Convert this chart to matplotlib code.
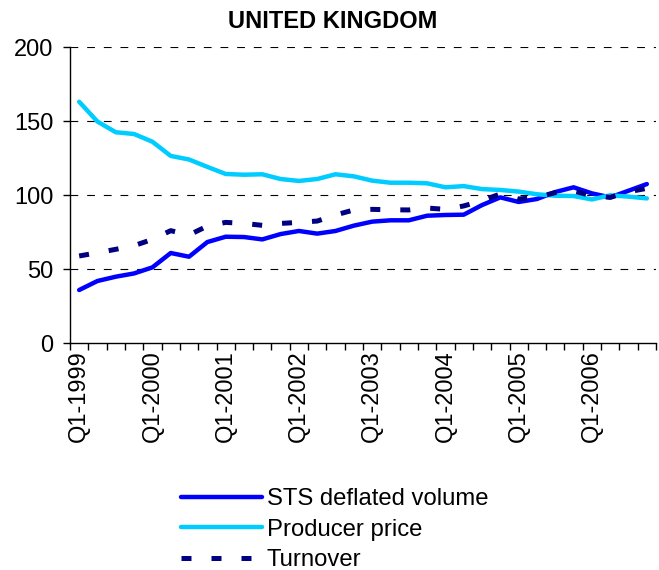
import matplotlib.pyplot as plt
import numpy as np

# Quarterly index values, Q1-1999 .. Q4-2006
quarters = [f"Q{q}-{y}" for y in range(1999, 2007) for q in range(1, 5)]
year_labels = [f"Q1-{y}" for y in range(1999, 2007)]

sts_volume = [35.8, 41.9, 44.8, 47.0, 51.1, 60.8, 58.3, 68.2,
              71.8, 71.6, 70.0, 73.6, 75.7, 73.9, 75.7, 79.3,
              82.0, 82.9, 82.9, 86.0, 86.5, 86.7, 93.2, 98.4,
              95.3, 97.3, 102.0, 105.2, 101.1, 98.4, 102.9, 107.4]
producer_price = [163.0, 149.6, 142.4, 141.2, 136.0, 126.4, 124.0, 119.0,
                  114.2, 113.7, 114.0, 110.8, 109.5, 110.8, 114.0, 112.6,
                  109.7, 108.3, 108.3, 107.9, 105.2, 106.0, 104.0, 103.4,
                  102.3, 100.5, 99.5, 99.3, 97.0, 99.8, 98.9, 97.7]
turnover = [58.8, 61.0, 63.3, 65.8, 70.0, 75.9, 73.0, 79.0,
            81.5, 80.8, 79.5, 80.8, 81.5, 82.4, 86.5, 89.9,
            90.3, 90.0, 89.9, 91.2, 90.3, 92.6, 96.2, 100.7,
            97.3, 98.4, 101.6, 102.7, 99.5, 98.4, 102.2, 104.5]

plt.rcParams['font.family'] = ['Liberation Sans', 'DejaVu Sans']

fig = plt.figure(figsize=(6.59, 5.70), dpi=100)
ax = fig.add_axes([70 / 659, 1 - 343 / 570, 586 / 659, 296 / 570])

x = np.arange(len(quarters))
ax.plot(x, sts_volume, color='#0000ff', lw=3.2, label='STS deflated volume',
        solid_capstyle='round', solid_joinstyle='round')
ax.plot(x, producer_price, color='#00ccff', lw=3.2, label='Producer price',
        solid_capstyle='round', solid_joinstyle='round')
ax.plot(x, turnover, color='#000080', lw=3.6, ls=(0, (2, 4)), label='Turnover')

ax.set_xlim(-0.5, len(quarters) - 0.5)
ax.set_ylim(0, 200)
ax.set_yticks([0, 50, 100, 150, 200])
for v in [50, 100, 150, 200]:
    ax.axhline(v, color='black', lw=0.8, ls=(0, (7, 8)), zorder=0)

ax.set_xticks(x[::4], year_labels, rotation=90)
ax.set_xticks(np.arange(-0.5, len(quarters)), minor=True)
ax.tick_params(axis='x', which='major', length=0, pad=5, labelsize=17)
ax.tick_params(axis='x', which='minor', length=5, width=1, direction='out')
ax.tick_params(axis='y', length=5, width=1, pad=7, labelsize=17)

for s in ['top', 'right']:
    ax.spines[s].set_visible(False)
for s in ['left', 'bottom']:
    ax.spines[s].set_linewidth(1)
    ax.spines[s].set_color('black')

fig.text(333 / 659, 1 - 22 / 570, 'UNITED KINGDOM', ha='center', va='center',
         fontsize=17, fontweight='bold')

fig.legend(loc='upper left', bbox_to_anchor=(181 / 659, 1 - 488 / 570),
           frameon=False, fontsize=17.2, handlelength=3.4, handletextpad=0.2,
           labelspacing=0.36, borderpad=0, borderaxespad=0)

fig.savefig('out.png', dpi=100)
